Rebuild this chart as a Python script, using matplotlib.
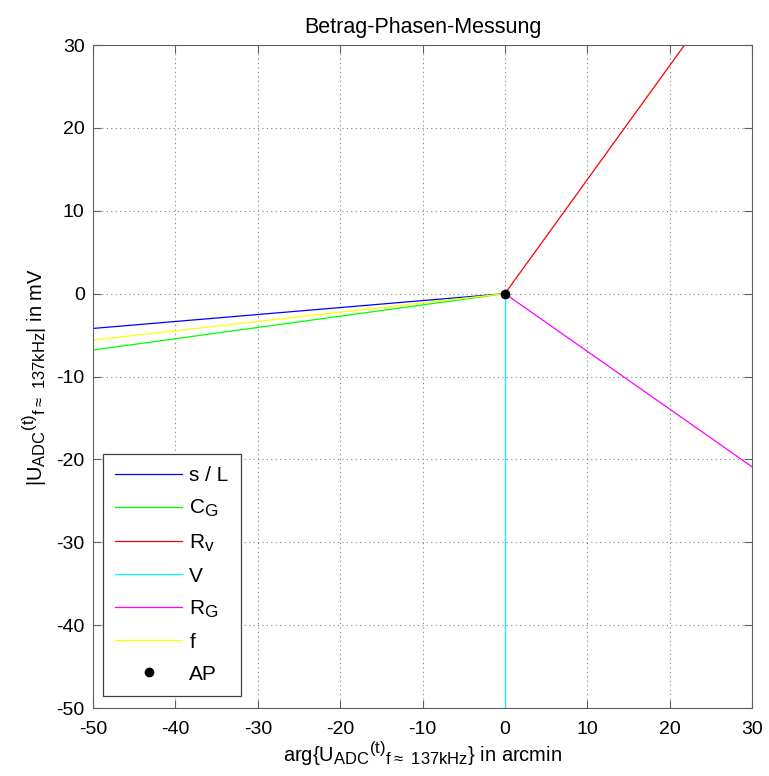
import matplotlib.pyplot as plt
import matplotlib._mathtext as mt
import numpy as np

plt.rcParams['font.family'] = ['Liberation Sans', 'DejaVu Sans']
plt.rcParams['mathtext.default'] = 'regular'
plt.rcParams['axes.unicode_minus'] = False
# bigger sub/superscripts
mt.SHRINK_FACTOR = 0.82

# end points of the sensitivity lines, all start at the working point (0, 0)
names = ['s / L', 'C$_G$', 'R$_v$', 'V', 'R$_G$', 'f']
colors = ['#0000ff', '#00ff00', '#ff0000', '#00ffff', '#ff00ff', '#ffff00']
x_end = [-50, -50, 21.8, 0, 30, -50]
y_end = [-4.2, -6.8, 30, -50, -20.9, -5.6]
ap_x, ap_y = 0, 0

fig = plt.figure(figsize=(7.69, 7.76), dpi=100)
ax = fig.add_axes([0.121, 0.0876, 0.857, 0.8544])

for name, c, xe, ye in zip(names, colors, x_end, y_end):
	ax.plot([ap_x, xe], [ap_y, ye], color=c, lw=0.9, label=name)
ax.plot(ap_x, ap_y, 'o', color='k', ms=6, ls='none', label='AP')

ax.set_xlim(-50, 30)
ax.set_ylim(-50, 30)
ax.set_xticks(np.arange(-50, 31, 10))
ax.set_yticks(np.arange(-50, 31, 10))
ax.grid(True, ls=(0, (1, 3)), color='#808080', lw=0.8)
ax.tick_params(direction='in', top=True, right=True, length=6, color='#606060', labelsize=14)
ax.tick_params(axis='x', pad=9)
ax.tick_params(axis='y', pad=6)
for s in ax.spines.values():
	s.set_color('#606060')

ax.set_title('Betrag-Phasen-Messung', fontsize=15.5, pad=9)
ax.set_xlabel(r'arg{U$_{ADC}$$^{(t)}$$_{f\approx\ 137kHz}$} in arcmin', fontsize=14.5, labelpad=1)
ax.set_ylabel(r'|U$_{ADC}$$^{(t)}$$_{f\approx\ 137kHz}$| in mV', fontsize=14.5, labelpad=6)

leg = ax.legend(loc='lower left', bbox_to_anchor=(0.015, 0.018), borderaxespad=0,
	fontsize=15, handlelength=3.2, handletextpad=0.35, labelspacing=0.62,
	fancybox=False, edgecolor='#404040', framealpha=1, borderpad=0.6)
leg.get_frame().set_linewidth(0.9)

fig.savefig('out.png', dpi=100)
